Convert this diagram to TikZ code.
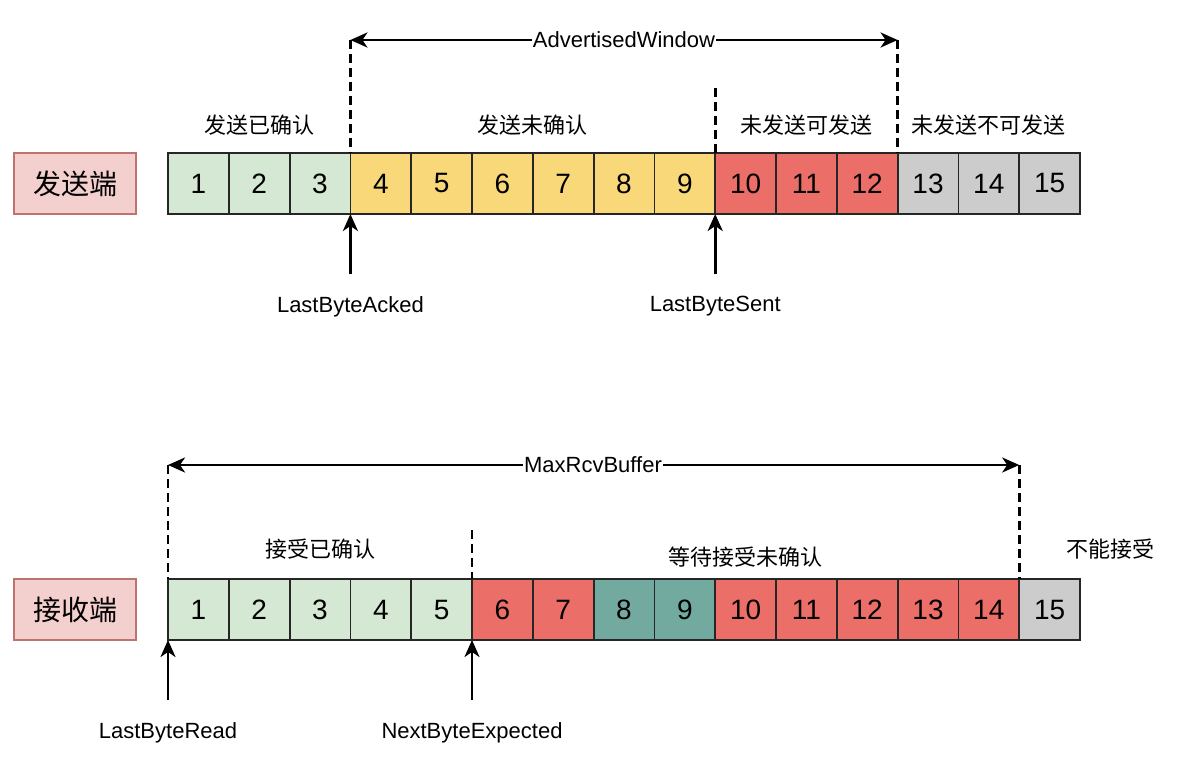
\documentclass[tikz,border=0pt]{standalone}
\usepackage{fontspec}
\setmainfont{Liberation Sans}
\newfontfamily\cjk{Noto Sans CJK SC}
\usepackage{xcolor}
\usetikzlibrary{arrows.meta, positioning}

\definecolor{ackgreen}{HTML}{D5E8D4}
\definecolor{sentyellow}{HTML}{F9D87A}
\definecolor{winred}{HTML}{EC6E68}
\definecolor{outgray}{HTML}{CCCCCC}
\definecolor{recvteal}{HTML}{72AA9F}
\definecolor{sidepink}{HTML}{F3CFCD}
\definecolor{sideborder}{HTML}{C0726D}

\tikzset{
    cell/.style={draw=black!85, line width=1.8pt, minimum width=60.8pt, minimum height=61pt,
        inner sep=0pt, outer sep=0pt, font=\fontsize{28}{32}\selectfont},
    side/.style={draw=sideborder, fill=sidepink, line width=1.6pt, minimum width=122pt,
        minimum height=61pt, font=\cjk\fontsize{28}{32}\selectfont},
    tag/.style={inner sep=1pt, font=\fontsize{22}{26}\selectfont},
    cntag/.style={inner sep=1pt, font=\cjk\fontsize{22}{26}\selectfont},
    ptr/.style={line width=2.8pt, -{Stealth[length=17pt,width=15pt,inset=5pt]}},
    bound/.style={line width=2.6pt, dash pattern=on 9pt off 5pt},
}

\begin{document}
\begin{tikzpicture}[x=1pt, y=-1pt]
    \useasboundingbox (0,0) rectangle (1181,773);

    % sender side
    \foreach \i/\c in {1/ackgreen, 2/ackgreen, 3/ackgreen, 4/sentyellow, 5/sentyellow,
        6/sentyellow, 7/sentyellow, 8/sentyellow, 9/sentyellow, 10/winred, 11/winred,
        12/winred, 13/outgray, 14/outgray, 15/outgray}
        \node[cell, fill=\c] (s\i) at ({168+60.8*(\i-0.5)},183.5) {\i};
    \node[side] (sender) [left=31pt of s1] {发送端};

    \node[tag] (aw) at (624,40) {AdvertisedWindow};
    \coordinate (awl) at (s3.north east |- aw);
    \coordinate (awr) at (s12.north east |- aw);
    \draw[ptr] (aw.west) -- (awl);
    \draw[ptr] (aw.east) -- (awr);
    \draw[bound] (awl) -- (s3.north east);
    \draw[bound] (awr) -- (s12.north east);
    \coordinate (sentmark) at ([yshift=65pt]s9.north east);
    \draw[bound] (sentmark) -- (s9.north east);

    \node[cntag] (acked) at ([yshift=28pt]s2.north) {发送已确认};
    \node[cntag] (unacked) at ([yshift=28pt]s6.north east) {发送未确认};
    \node[cntag] (usable) at ([yshift=28pt]s11.north) {未发送可发送};
    \node[cntag] (unusable) at ([yshift=28pt]s14.north) {未发送不可发送};

    \coordinate (ackfoot) at ([yshift=-60pt]s3.south east);
    \coordinate (sentfoot) at ([yshift=-60pt]s9.south east);
    \draw[ptr] (ackfoot) -- (s3.south east);
    \draw[ptr] (sentfoot) -- (s9.south east);
    \node[tag] (lba) [below=21pt of ackfoot] {LastByteAcked};
    \node[tag] (lbs) [below=21pt of sentfoot] {LastByteSent};

    % receiver side
    \foreach \i/\c in {1/ackgreen, 2/ackgreen, 3/ackgreen, 4/ackgreen, 5/ackgreen,
        6/winred, 7/winred, 8/recvteal, 9/recvteal, 10/winred, 11/winred,
        12/winred, 13/winred, 14/winred, 15/outgray}
        \node[cell, fill=\c] (r\i) at ({168+60.8*(\i-0.5)},609.5) {\i};
    \node[side] (receiver) [left=31pt of r1] {接收端};

    \node[tag] (mrb) at (593,465) {MaxRcvBuffer};
    \coordinate (mrbl) at (r1.north west |- mrb);
    \coordinate (mrbr) at (r14.north east |- mrb);
    \draw[ptr] (mrb.west) -- (mrbl);
    \draw[ptr] (mrb.east) -- (mrbr);
    \draw[bound] (mrbl) -- (r1.north west);
    \draw[bound] (mrbr) -- (r14.north east);
    \coordinate (expmark) at ([yshift=49pt]r5.north east);
    \draw[bound] (expmark) -- (r5.north east);

    \node[cntag] (rcvacked) at ([yshift=30pt]r3.north) {接受已确认};
    \node[cntag] (waiting) at ([yshift=22pt]r10.north) {等待接受未确认};
    \node[cntag] (refused) at ([xshift=30pt,yshift=30pt]r15.north east) {不能接受};

    \coordinate (readfoot) at ([yshift=-60pt]r1.south west);
    \coordinate (expfoot) at ([yshift=-60pt]r5.south east);
    \draw[ptr] (readfoot) -- (r1.south west);
    \draw[ptr] (expfoot) -- (r5.south east);
    \node[tag] (lbr) [below=21pt of readfoot] {LastByteRead};
    \node[tag] (nbe) [below=21pt of expfoot] {NextByteExpected};
\end{tikzpicture}
\end{document}
